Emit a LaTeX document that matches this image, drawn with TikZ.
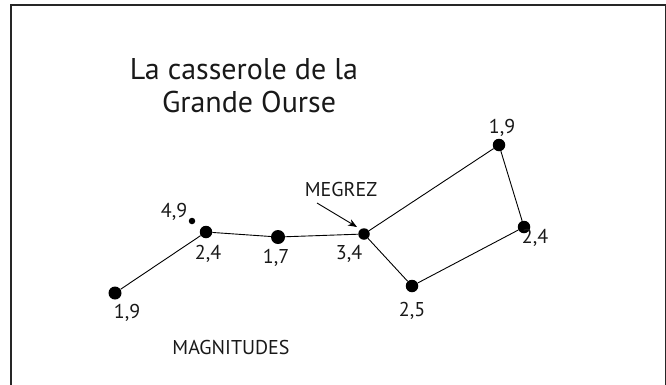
\documentclass[tikz,border=0pt]{standalone}
\usepackage{fontspec}
\setmainfont{PT Sans}
\usetikzlibrary{arrows.meta}
\begin{document}
\begin{tikzpicture}[x=1pt,y=-1pt,
  star/.style={circle,fill=black,inner sep=0pt,minimum size=#1},
  lab/.style={anchor=base,inner sep=0pt,font=\fontsize{20}{22}\selectfont,text=black!90},
  ttl/.style={anchor=base,inner sep=0pt,font=\fontsize{30}{33}\selectfont,text=black!90},
  link/.style={line width=0.9pt,black}]
\useasboundingbox (0,0) rectangle (666,384);
\draw[line width=1.3pt,black!85] (11,5) rectangle (665.5,400);
% title
\node[ttl] (t1) at (244,79) {La casserole de la};
\node[ttl] (t2) at (249,112) {Grande Ourse};
% stars
\node[star=13pt] (a) at (115,293) {};
\node[star=12.5pt] (b) at (206,232) {};
\node[star=6.5pt] (s) at (192,221) {};
\node[star=14pt] (c) at (278,237) {};
\node[star=11.5pt] (d) at (364,234) {};
\node[star=12.5pt] (e) at (412,286) {};
\node[star=12.5pt] (f) at (524,227) {};
\node[star=12.5pt] (g) at (499,145) {};
% links
\draw[link] (a) -- (b) -- (c) -- (d) -- (g) -- (f) -- (e) -- (d);
% labels
\node[lab] (la) at (127,318) {1,9};
\node[lab] (ls) at (174,217) {4,9};
\node[lab] (lb) at (208,259) {2,4};
\node[lab] (lc) at (276,263) {1,7};
\node[lab] (ld) at (349,259) {3,4};
\node[lab] (le) at (412,316) {2,5};
\node[lab] (lf) at (535,243) {2,4};
\node[lab] (lg) at (502,133) {1,9};
\node[lab] (m) at (341,196) {MEGREZ};
\node[lab] (mag) at (231,354) {MAGNITUDES};
% arrow
\coordinate (mtail) at (317,203);
\coordinate (mtip) at (357,227);
\draw[line width=0.9pt,-{Stealth[length=9pt,width=7pt]}] (mtail) -- (mtip);
\end{tikzpicture}
\end{document}
